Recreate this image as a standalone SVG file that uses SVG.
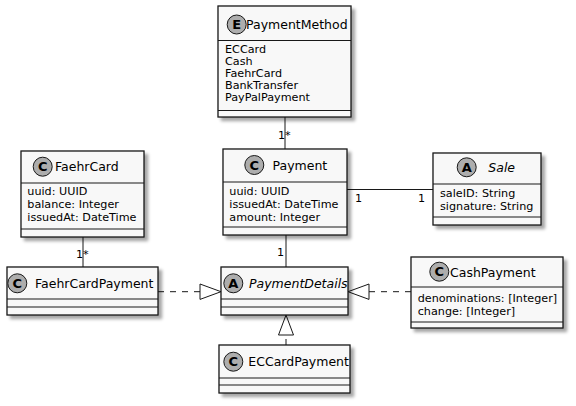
<svg xmlns="http://www.w3.org/2000/svg" width="576" height="406" viewBox="0 0 576 406">
<defs>
<filter id="sh" x="-10%" y="-10%" width="130%" height="130%">
<feDropShadow dx="3.5" dy="3.5" stdDeviation="1.6" flood-color="#000" flood-opacity="0.35"/>
</filter>
</defs>
<style>
.box{fill:#F8F8F8;stroke:#181818;stroke-width:1.3;filter:url(#sh)}
.sep{stroke:#181818;stroke-width:1.2}
.ic{fill:#ADADAD;stroke:#181818;stroke-width:1}
.il{font-family:"DejaVu Sans",sans-serif;font-size:13px;font-weight:bold;fill:#000;text-anchor:middle}
.nm{font-family:"DejaVu Sans",sans-serif;font-size:12.5px;fill:#000}
.it{font-style:italic}
.at{font-family:"DejaVu Sans",sans-serif;font-size:11.2px;fill:#000}
.lb{font-family:"DejaVu Sans",sans-serif;font-size:11.2px;fill:#000}
.ln{stroke:#181818;stroke-width:1;fill:none}
.ds{stroke:#181818;stroke-width:1;fill:none;stroke-dasharray:6,6}
.tri{fill:#FFFFFF;stroke:#181818;stroke-width:1}
</style>
<g id="connectors">
<line class="ln" x1="285" y1="117" x2="285" y2="149"/>
<text class="lb" x="278" y="139">1*</text>
<line class="ln" x1="83" y1="237" x2="83" y2="267"/>
<text class="lb" x="76" y="258">1*</text>
<line class="ln" x1="286" y1="235" x2="286" y2="267"/>
<text class="lb" x="277" y="256">1</text>
<line class="ln" x1="347" y1="189.5" x2="433" y2="189.5"/>
<text class="lb" x="355" y="202">1</text>
<text class="lb" x="418" y="202">1</text>
<line class="ds" x1="158" y1="291.7" x2="200" y2="291.7"/>
<polygon class="tri" points="221,291.7 200,284 200,299.4"/>
<line class="ds" x1="411" y1="291.7" x2="369" y2="291.7"/>
<polygon class="tri" points="348,291.7 369,284 369,299.4"/>
<line class="ds" x1="286" y1="345" x2="286" y2="335"/>
<polygon class="tri" points="286,315 278.5,335 293.5,335"/>
</g>
<g id="PaymentMethod">
<rect class="box" x="218" y="6" width="133" height="111"/>
<line class="sep" x1="218" y1="40.5" x2="351" y2="40.5"/>
<line class="sep" x1="218" y1="110.5" x2="351" y2="110.5"/>
<circle class="ic" cx="236.7" cy="24.5" r="9.5"/>
<text class="il" x="236.7" y="29.2">E</text>
<text class="nm" x="246" y="29">PaymentMethod</text>
<text class="at" x="225" y="53">ECCard</text>
<text class="at" x="225" y="65">Cash</text>
<text class="at" x="225" y="77">FaehrCard</text>
<text class="at" x="225" y="89">BankTransfer</text>
<text class="at" x="225" y="101">PayPalPayment</text>
</g>
<g id="Payment">
<rect class="box" x="223" y="149" width="124" height="86"/>
<line class="sep" x1="223" y1="182" x2="347" y2="182"/>
<line class="sep" x1="223" y1="227" x2="347" y2="227"/>
<circle class="ic" cx="254.3" cy="165" r="9.5"/>
<text class="il" x="254.3" y="169.7">C</text>
<text class="nm" x="272.5" y="170">Payment</text>
<text class="at" x="229.3" y="195">uuid: UUID</text>
<text class="at" x="229.3" y="208">issuedAt: DateTime</text>
<text class="at" x="229.3" y="221">amount: Integer</text>
</g>
<g id="FaehrCard">
<rect class="box" x="21" y="151" width="123" height="86"/>
<line class="sep" x1="21" y1="183" x2="144" y2="183"/>
<line class="sep" x1="21" y1="229" x2="144" y2="229"/>
<circle class="ic" cx="42.7" cy="166.7" r="9.5"/>
<text class="il" x="42.7" y="171.4">C</text>
<text class="nm" x="55" y="171">FaehrCard</text>
<text class="at" x="27.3" y="195">uuid: UUID</text>
<text class="at" x="27.3" y="208">balance: Integer</text>
<text class="at" x="27.3" y="221">issuedAt: DateTime</text>
</g>
<g id="Sale">
<rect class="box" x="433" y="153" width="108" height="72"/>
<line class="sep" x1="433" y1="184" x2="541" y2="184"/>
<line class="sep" x1="433" y1="217" x2="541" y2="217"/>
<circle class="ic" cx="466.7" cy="167.3" r="9.5"/>
<text class="il" x="466.7" y="172">A</text>
<text class="nm it" x="488.3" y="171.5">Sale</text>
<text class="at" x="440" y="197">saleID: String</text>
<text class="at" x="440" y="210">signature: String</text>
</g>
<g id="FaehrCardPayment">
<rect class="box" x="7" y="267" width="151" height="48"/>
<line class="sep" x1="7" y1="299" x2="158" y2="299"/>
<line class="sep" x1="7" y1="307" x2="158" y2="307"/>
<circle class="ic" cx="17.3" cy="283.3" r="9.5"/>
<text class="il" x="17.3" y="288">C</text>
<text class="nm" x="35" y="288">FaehrCardPayment</text>
</g>
<g id="PaymentDetails">
<rect class="box" x="221" y="267" width="127" height="48"/>
<line class="sep" x1="221" y1="299" x2="348" y2="299"/>
<line class="sep" x1="221" y1="307" x2="348" y2="307"/>
<circle class="ic" cx="233.3" cy="283.3" r="9.5"/>
<text class="il" x="233.3" y="288">A</text>
<text class="nm it" x="249" y="288">PaymentDetails</text>
</g>
<g id="CashPayment">
<rect class="box" x="411" y="257" width="152" height="71"/>
<line class="sep" x1="411" y1="287" x2="563" y2="287"/>
<line class="sep" x1="411" y1="322" x2="563" y2="322"/>
<circle class="ic" cx="439.3" cy="271.7" r="9.5"/>
<text class="il" x="439.3" y="276.4">C</text>
<text class="nm" x="450" y="276.5">CashPayment</text>
<text class="at" x="417.7" y="302">denominations: [Integer]</text>
<text class="at" x="417.7" y="315">change: [Integer]</text>
</g>
<g id="ECCardPayment">
<rect class="box" x="219" y="345" width="131" height="48"/>
<line class="sep" x1="219" y1="378" x2="350" y2="378"/>
<line class="sep" x1="219" y1="385" x2="350" y2="385"/>
<circle class="ic" cx="233.3" cy="361.7" r="9.5"/>
<text class="il" x="233.3" y="366.4">C</text>
<text class="nm" x="248.3" y="366">ECCardPayment</text>
</g>
</svg>
